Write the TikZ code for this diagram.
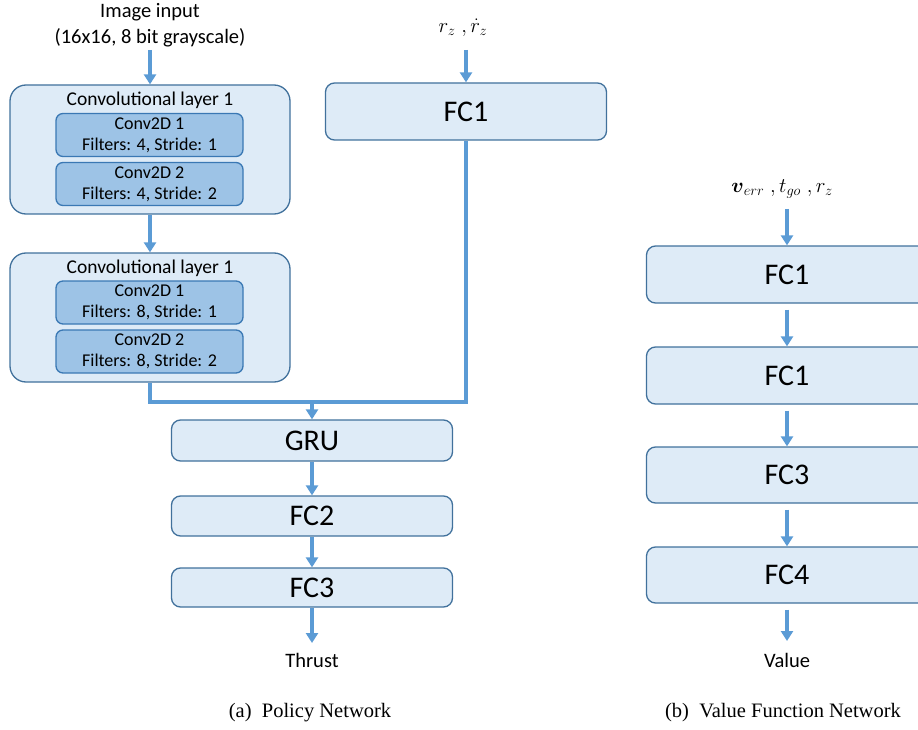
\documentclass[tikz,border=0pt]{standalone}
\usepackage{fontspec}
\usepackage{amsmath}
\setmainfont{Carlito}
\newfontfamily\capfont{Liberation Serif}
\usetikzlibrary{arrows.meta}
\definecolor{outerfill}{HTML}{DEEBF7}
\definecolor{outerdraw}{HTML}{41719C}
\definecolor{innerfill}{HTML}{9DC3E6}
\definecolor{innerdraw}{HTML}{3A78B4}
\definecolor{arrowcol}{HTML}{5B9BD5}
\tikzset{
  outerbox/.style={draw=outerdraw, fill=outerfill, line width=1.3pt, rounded corners=16pt, minimum width=280pt, minimum height=129pt, inner sep=0pt},
  innerbox/.style={draw=innerdraw, fill=innerfill, line width=1.3pt, rounded corners=7pt, minimum width=187pt, minimum height=43pt, inner sep=0pt, align=center, font=\fontsize{18}{21}\selectfont},
  fcbox/.style={draw=outerdraw, fill=outerfill, line width=1.3pt, rounded corners=9pt, minimum width=281pt, inner sep=0pt, font=\fontsize{30}{34}\selectfont},
  lbl/.style={font=\fontsize{20.5}{26}\selectfont, align=center, inner sep=0pt},
  mlbl/.style={font=\fontsize{22}{26}\selectfont, inner sep=0pt},
  captxt/.style={font=\capfont\fontsize{20.5}{24}\selectfont, inner sep=0pt},
  arr/.style={draw=arrowcol, line width=3.5pt, -{Triangle[width=12pt,length=10pt]}},
  bus/.style={draw=arrowcol, line width=3.5pt},
}
\begin{document}
\begin{tikzpicture}[x=1pt,y=-1pt]
\useasboundingbox (0,0) rectangle (918,730);
% ---------- Policy network ----------
\node[lbl] (img) at (150,25) {Image input\\(16x16, 8 bit grayscale)};
\coordinate (imgarr) at (150,50);
\node[outerbox] (cl1) at (150,149.5) {};
\node[lbl, font=\fontsize{19.5}{24}\selectfont] (cl1t) at (150,100) {Convolutional layer 1};
\node[innerbox] (c11) at (149.5,135) {Conv2D 1\\Filters: 4, Stride: 1};
\node[innerbox] (c12) at (149.5,184) {Conv2D 2\\Filters: 4, Stride: 2};

\node[outerbox] (cl2) at (150,317.5) {};
\node[lbl, font=\fontsize{19.5}{24}\selectfont] (cl2t) at (150,268) {Convolutional layer 1};
\node[innerbox] (c21) at (149.5,302.5) {Conv2D 1\\Filters: 8, Stride: 1};
\node[innerbox] (c22) at (149.5,351.5) {Conv2D 2\\Filters: 8, Stride: 2};

\node[mlbl] (rin) at (463,28) {$r_z\;,\dot{r}_z$};
\coordinate (rarr) at (466,50);
\node[fcbox, minimum height=57pt] (fc1) at (466,111.5) {FC1};

\coordinate (busl) at (150,402);
\coordinate (busm) at (312,402);
\node[fcbox, minimum height=41pt] (gru) at (312,440.5) {GRU};
\node[fcbox, minimum height=40pt] (fc2) at (312,516) {FC2};
\node[fcbox, minimum height=39pt] (fc3) at (312,587.5) {FC3};
\node[lbl] (thrust) at (312,660) {Thrust};
\coordinate (thrarr) at (312,643);

\draw[arr] (imgarr) -- (cl1.north);
\draw[arr] (cl1.south) -- (cl2.north);
\draw[arr] (rarr) -- (fc1.north);
\draw[bus] (cl2.south) -- (busl) -| (fc1.south);
\draw[arr] (busm) -- (gru.north);
\draw[arr] (gru.south) -- (fc2.north);
\draw[arr] (fc2.south) -- (fc3.north);
\draw[arr] (fc3.south) -- (thrarr);

\node[captxt] (capa) at (310,713) {(a)\ \ Policy Network};

% ---------- Value network ----------
\node[mlbl] (vin) at (782,189) {$\boldsymbol{v}_{err}\;,t_{go}\;,r_z$};
\coordinate (varr) at (787,209);
\node[fcbox, minimum height=57pt] (v1) at (787,274.5) {FC1};
\node[fcbox, minimum height=57pt] (v2) at (787,375.5) {FC1};
\node[fcbox, minimum height=56pt] (v3) at (787,475) {FC3};
\node[fcbox, minimum height=56pt] (v4) at (787,575) {FC4};
\node[lbl] (value) at (787,660) {Value};
\coordinate (valarr) at (787,641);
\draw[arr] (varr) -- (v1.north);
\draw[arr] ([yshift=-6pt]v1.south) -- (v2.north);
\draw[arr] ([yshift=-6pt]v2.south) -- (v3.north);
\draw[arr] ([yshift=-6pt]v3.south) -- (v4.north);
\draw[arr] ([yshift=-6pt]v4.south) -- (valarr);

\node[captxt] (capb) at (783,713) {(b)\ \ Value Function Network};
\end{tikzpicture}
\end{document}
